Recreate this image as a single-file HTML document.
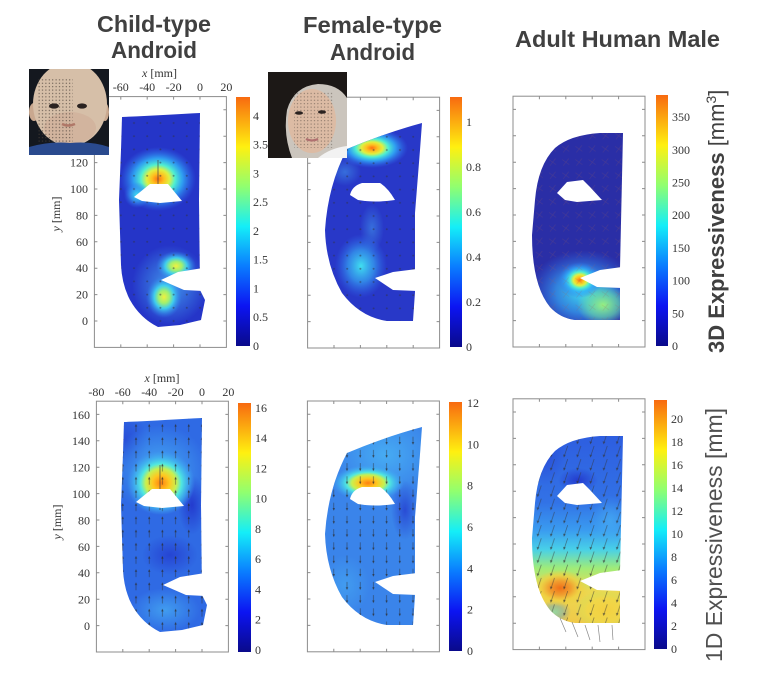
<!DOCTYPE html>
<html><head><meta charset="utf-8"><style>html,body{margin:0;padding:0;background:#fff}svg{display:block}</style></head>
<body>
<svg width="768" height="689" viewBox="0 0 768 689" xmlns="http://www.w3.org/2000/svg" xmlns:xlink="http://www.w3.org/1999/xlink">
<defs>
<linearGradient id="jet" x1="0" y1="1" x2="0" y2="0">
<stop offset="0" stop-color="#0a0a8a"/><stop offset=".16" stop-color="#0c14f2"/><stop offset=".32" stop-color="#0a7cff"/><stop offset=".48" stop-color="#14eef8"/><stop offset=".64" stop-color="#90ff70"/><stop offset=".8" stop-color="#fff010"/><stop offset="1" stop-color="#f86a10"/>
</linearGradient>
<radialGradient id="gHot"><stop offset="0" stop-color="#ff7010"/><stop offset=".16" stop-color="#ffc020"/><stop offset=".3" stop-color="#e0f040"/><stop offset=".45" stop-color="#50f0d0"/><stop offset=".65" stop-color="#30b0f8" stop-opacity=".85"/><stop offset="1" stop-color="#3070f0" stop-opacity="0"/></radialGradient>
<radialGradient id="gHot2"><stop offset="0" stop-color="#ff8010"/><stop offset=".25" stop-color="#ffc820"/><stop offset=".45" stop-color="#c8f050"/><stop offset=".6" stop-color="#50e8e0"/><stop offset=".8" stop-color="#40b8f0" stop-opacity=".7"/><stop offset="1" stop-color="#40a0f0" stop-opacity="0"/></radialGradient>
<radialGradient id="gHotF"><stop offset="0" stop-color="#f07018"/><stop offset=".4" stop-color="#f0a030"/><stop offset=".7" stop-color="#f0d040" stop-opacity=".8"/><stop offset="1" stop-color="#f0d040" stop-opacity="0"/></radialGradient>
<radialGradient id="gYel"><stop offset="0" stop-color="#f0f040"/><stop offset=".3" stop-color="#a0f070"/><stop offset=".55" stop-color="#40d8f0" stop-opacity=".9"/><stop offset="1" stop-color="#3080f0" stop-opacity="0"/></radialGradient>
<radialGradient id="gCyan"><stop offset="0" stop-color="#40e0f0"/><stop offset=".5" stop-color="#35a0f0" stop-opacity=".75"/><stop offset="1" stop-color="#3070f0" stop-opacity="0"/></radialGradient>
<radialGradient id="gLight"><stop offset="0" stop-color="#48b0f4" stop-opacity=".9"/><stop offset="1" stop-color="#48b0f4" stop-opacity="0"/></radialGradient>
<radialGradient id="gDark"><stop offset="0" stop-color="#2236cc" stop-opacity=".9"/><stop offset="1" stop-color="#2236cc" stop-opacity="0"/></radialGradient>
<radialGradient id="gGreen"><stop offset="0" stop-color="#98f080"/><stop offset=".6" stop-color="#70e8a0" stop-opacity=".6"/><stop offset="1" stop-color="#70e8a0" stop-opacity="0"/></radialGradient>
<radialGradient id="gYellow2"><stop offset="0" stop-color="#f4d040"/><stop offset=".6" stop-color="#f0d848" stop-opacity=".8"/><stop offset="1" stop-color="#c0e860" stop-opacity="0"/></radialGradient>
<linearGradient id="gF" gradientUnits="userSpaceOnUse" x1="0" y1="436" x2="0" y2="625">
<stop offset="0" stop-color="#2e5ee0"/><stop offset=".35" stop-color="#3272e6"/><stop offset=".5" stop-color="#3a9cf0"/><stop offset=".6" stop-color="#48d0e8"/><stop offset=".7" stop-color="#a0ec78"/><stop offset=".82" stop-color="#ecd850"/><stop offset="1" stop-color="#f0c848"/>
</linearGradient>

<pattern id="pDotA" width="13.2" height="13.2" patternUnits="userSpaceOnUse" x="193.4" y="314.4"><circle cx="6.6" cy="6.6" r="1" fill="#303040" opacity=".5"/></pattern>
<pattern id="pDotB" width="13.2" height="13.2" patternUnits="userSpaceOnUse" x="406.6" y="315"><circle cx="6.6" cy="6.6" r="1" fill="#303040" opacity=".5"/></pattern>
<pattern id="pC" width="13.2" height="13.2" patternUnits="userSpaceOnUse" x="612" y="314"><path d="M3,4L10,9M9.5,3L4,10" stroke="#9a5a5a" stroke-width=".5" opacity=".3"/></pattern>
<pattern id="pUp" width="13.2" height="13.2" patternUnits="userSpaceOnUse" x="195.4" y="619.4"><path d="M6.6,10.5V3.5" stroke="#2a2a2a" stroke-width=".7" opacity=".65"/><path d="M5.4,5.2L6.6,2.4L7.8,5.2Z" fill="#2a2a2a" opacity=".65"/></pattern>
<pattern id="pDown" width="13.2" height="13.2" patternUnits="userSpaceOnUse" x="406.4" y="619"><path d="M6.6,2.5V9.5" stroke="#2a2a2a" stroke-width=".7" opacity=".65"/><path d="M5.4,7.8L6.6,10.6L7.8,7.8Z" fill="#2a2a2a" opacity=".65"/></pattern>
<pattern id="pF" width="13.2" height="13.2" patternUnits="userSpaceOnUse" x="612" y="617"><path d="M8.5,0.5L5,11" stroke="#333" stroke-width=".7" opacity=".6"/><path d="M3.8,9L4.7,12.2L6.6,9.6Z" fill="#333" opacity=".6"/></pattern>
<pattern id="pPh" width="3.4" height="3.4" patternUnits="userSpaceOnUse"><circle cx="1.7" cy="1.7" r=".55" fill="#4a4038"/></pattern>

<clipPath id="cA"><path d="M122,117 C150,116 178,114 200,113 L199,200 L200,290 L205,300 L201,320 L180,325 L158,327 Q140,318 130,300 Q122,285 121,265 L119,200 L121,150 Z"/></clipPath>
<clipPath id="cB"><path d="M347,149 Q385,133 422,123 L420,150 L415,213 L415,292 L413,321 L387,321 Q360,317 342,293 Q326,265 325,230 Q328,185 347,149 Z"/></clipPath>
<clipPath id="cC"><path d="M623,133 L600,133 Q570,135 555,148 Q538,165 535,200 L532,235 Q532,285 550,307 Q560,318 575,320 L620,320 L620,268 Z"/></clipPath>
<clipPath id="cD"><path transform="translate(2,305)" d="M122,117 C150,116 178,114 200,113 L199,200 L200,290 L205,300 L201,320 L180,325 L158,327 Q140,318 130,300 Q122,285 121,265 L119,200 L121,150 Z"/></clipPath>
<clipPath id="cE"><path transform="translate(0,304)" d="M347,149 Q385,133 422,123 L420,150 L415,213 L415,292 L413,321 L387,321 Q360,317 342,293 Q326,265 325,230 Q328,185 347,149 Z"/></clipPath>
<clipPath id="cF"><path transform="translate(0,303)" d="M623,133 L600,133 Q570,135 555,148 Q538,165 535,200 L532,235 Q532,285 550,307 Q560,318 575,320 L620,320 L620,268 Z"/></clipPath>
<clipPath id="cP1"><rect x="29" y="69" width="80" height="86"/></clipPath>
<clipPath id="cP2"><rect x="268" y="72" width="79" height="86"/></clipPath>

<g id="box">
<rect x="0" y="0" width="132" height="250.8" fill="none" stroke="#8c8c8c" stroke-width="1"/>
<path d="M26.4,0v3M52.8,0v3M79.2,0v3M105.6,0v3M26.4,250.8v-3M52.8,250.8v-3M79.2,250.8v-3M105.6,250.8v-3M0,13.2h3M0,39.6h3M0,66h3M0,92.4h3M0,118.8h3M0,145.2h3M0,171.6h3M0,198h3M0,224.4h3M132,13.2h-3M132,39.6h-3M132,66h-3M132,92.4h-3M132,118.8h-3M132,145.2h-3M132,171.6h-3M132,198h-3M132,224.4h-3" stroke="#8c8c8c" stroke-width="1" fill="none"/>
</g>
</defs>

<rect width="768" height="689" fill="#fff"/>

<!-- boxes -->
<use xlink:href="#box" x="94.4" y="96.6"/>
<use xlink:href="#box" x="307.6" y="97.2"/>
<use xlink:href="#box" x="513" y="96.2"/>
<use xlink:href="#box" x="96.4" y="401.2"/>
<use xlink:href="#box" x="307.4" y="401"/>
<use xlink:href="#box" x="513" y="398.8"/>

<!-- Panel A -->
<g clip-path="url(#cA)">
<rect x="110" y="105" width="100" height="230" fill="#2535c8"/>
<ellipse cx="170" cy="285" rx="38" ry="40" fill="url(#gLight)" opacity=".9"/>
<ellipse cx="158" cy="179" rx="38" ry="32" fill="url(#gHot)"/>
<ellipse cx="137" cy="195" rx="13" ry="13" fill="url(#gCyan)"/>
<ellipse cx="176" cy="266" rx="20" ry="15" fill="url(#gYel)"/>
<ellipse cx="164" cy="297" rx="18" ry="21" fill="url(#gYel)"/>
<rect x="110" y="105" width="100" height="230" fill="url(#pDotA)"/>
</g>
<path d="M158,160 V205" stroke="#444" stroke-width=".7"/>
<path d="M134,197 L145,188 L150,184 L168,184 L182,201 L160,203 L142,201 Z" fill="#fff"/>
<path d="M161,280 L178,272 L203,268 L203,291 L184,290 Z" fill="#fff"/>

<!-- Panel B -->
<g clip-path="url(#cB)">
<rect x="320" y="118" width="105" height="210" fill="#2838c8"/>
<ellipse cx="345" cy="172" rx="16" ry="14" fill="url(#gLight)" opacity=".5"/>
<ellipse cx="372" cy="228" rx="12" ry="24" fill="url(#gLight)" opacity=".5"/>
<ellipse cx="361" cy="266" rx="26" ry="32" fill="url(#gCyan)"/>
<ellipse cx="372" cy="148" rx="36" ry="20" fill="url(#gHot)"/>
<rect x="320" y="118" width="105" height="210" fill="url(#pDotB)"/>
</g>
<path d="M350,195 Q352,186 362,183 L380,183 Q388,188 395,200 Q375,203 358,200 Z" fill="#fff"/>
<path d="M375,278 L393,272 L417,269 L417,291 L393,290 Z" fill="#fff"/>

<!-- Panel C -->
<g clip-path="url(#cC)">
<rect x="528" y="128" width="100" height="198" fill="#2a2ea6"/>
<ellipse cx="583" cy="292" rx="54" ry="42" fill="url(#gCyan)"/>
<ellipse cx="603" cy="305" rx="26" ry="20" fill="url(#gGreen)"/>
<ellipse cx="580" cy="280" rx="22" ry="18" fill="url(#gHot)"/>
<rect x="528" y="128" width="100" height="198" fill="url(#pC)"/>
</g>
<path d="M557,193 L567,182 L583,180 L590,187 L602,200 L577,202 L565,200 Z" fill="#fff"/>
<path d="M580,278 L600,270 L622,267 L622,288 L597,287 Z" fill="#fff"/>

<!-- Panel D -->
<g clip-path="url(#cD)">
<rect x="110" y="410" width="105" height="230" fill="#2f6ae4"/>
<ellipse cx="125" cy="440" rx="22" ry="30" fill="url(#gDark)" opacity=".6"/>
<ellipse cx="160" cy="470" rx="48" ry="45" fill="url(#gLight)"/>
<ellipse cx="192" cy="505" rx="14" ry="30" fill="url(#gDark)"/>
<ellipse cx="170" cy="555" rx="28" ry="20" fill="url(#gDark)" opacity=".8"/>
<ellipse cx="165" cy="610" rx="35" ry="22" fill="url(#gLight)" opacity=".8"/>
<ellipse cx="161" cy="483" rx="34" ry="32" fill="url(#gHot2)"/>
<rect x="110" y="410" width="105" height="230" fill="url(#pUp)"/>
</g>
<g transform="translate(2,305)">
<path d="M158,160 V205" stroke="#444" stroke-width=".7"/>
<path d="M134,197 L145,188 L150,184 L168,184 L182,201 L160,203 L142,201 Z" fill="#fff"/>
<path d="M161,280 L178,272 L203,268 L203,291 L184,290 Z" fill="#fff"/>
</g>

<!-- Panel E -->
<g clip-path="url(#cE)">
<rect x="320" y="422" width="105" height="210" fill="#3a84ea"/>
<ellipse cx="385" cy="455" rx="50" ry="40" fill="url(#gLight)"/>
<ellipse cx="405" cy="510" rx="14" ry="30" fill="url(#gDark)" opacity=".8"/>
<ellipse cx="345" cy="585" rx="25" ry="30" fill="url(#gLight)" opacity=".6"/>
<ellipse cx="368" cy="483" rx="36" ry="18" fill="url(#gHot2)"/>
<rect x="320" y="422" width="105" height="210" fill="url(#pDown)"/>
</g>
<g transform="translate(0,304)">
<path d="M350,195 Q352,186 362,183 L380,183 Q388,188 395,200 Q375,203 358,200 Z" fill="#fff"/>
<path d="M375,278 L393,272 L417,269 L417,291 L393,290 Z" fill="#fff"/>
</g>

<!-- Panel F -->
<g clip-path="url(#cF)">
<rect x="528" y="430" width="100" height="200" fill="url(#gF)"/>
<ellipse cx="545" cy="455" rx="20" ry="30" fill="url(#gDark)" opacity=".5"/>
<ellipse cx="578" cy="480" rx="20" ry="12" fill="url(#gDark)"/>
<ellipse cx="610" cy="520" rx="20" ry="25" fill="url(#gLight)" opacity=".7"/>
<ellipse cx="605" cy="610" rx="30" ry="20" fill="url(#gYellow2)"/>
<ellipse cx="555" cy="612" rx="16" ry="12" fill="url(#gCyan)" opacity=".5"/>
<ellipse cx="560" cy="588" rx="28" ry="18" fill="url(#gHotF)"/>
<rect x="528" y="430" width="100" height="200" fill="url(#pF)"/>
</g>
<g transform="translate(0,303)">
<path d="M557,193 L567,182 L583,180 L590,187 L602,200 L577,202 L565,200 Z" fill="#fff"/>
<path d="M580,278 L600,270 L622,267 L622,288 L597,287 Z" fill="#fff"/>
</g>
<path d="M585,625 L590,640 M598,625 L600,642 M612,625 L613,640 M572,622 L578,637 M560,618 L566,632" stroke="#555" stroke-width=".7" opacity=".7"/>

<!-- colorbars -->
<rect x="236" y="97" width="14" height="249" fill="url(#jet)"/>
<rect x="450" y="97" width="12" height="250" fill="url(#jet)"/>
<rect x="656" y="95" width="12" height="251" fill="url(#jet)"/>
<rect x="238" y="403" width="13" height="249" fill="url(#jet)"/>
<rect x="449" y="402" width="13" height="249" fill="url(#jet)"/>
<rect x="654" y="400" width="13" height="249" fill="url(#jet)"/>

<!-- tick labels -->
<g font-family="'Liberation Serif', serif" font-size="12" fill="#333">
<g text-anchor="middle">
<text x="94.4" y="91">-80</text><text x="120.8" y="91">-60</text><text x="147.2" y="91">-40</text><text x="173.6" y="91">-20</text><text x="200" y="91">0</text><text x="226.4" y="91">20</text>
<text x="96.4" y="396">-80</text><text x="122.8" y="396">-60</text><text x="149.2" y="396">-40</text><text x="175.6" y="396">-20</text><text x="202" y="396">0</text><text x="228.4" y="396">20</text>
<text x="159.5" y="77"><tspan font-style="italic">x</tspan> [mm]</text>
<text x="162" y="382"><tspan font-style="italic">x</tspan> [mm]</text>
<text transform="translate(60,214) rotate(-90)"><tspan font-style="italic">y</tspan> [mm]</text>
<text transform="translate(61,522) rotate(-90)"><tspan font-style="italic">y</tspan> [mm]</text>
</g>
<g text-anchor="end">
<text x="88" y="113.8">160</text><text x="88" y="140.2">140</text><text x="88" y="166.6">120</text><text x="88" y="193">100</text><text x="88" y="219.4">80</text><text x="88" y="245.8">60</text><text x="88" y="272.2">40</text><text x="88" y="298.6">20</text><text x="88" y="325">0</text>
<text x="90" y="418.8">160</text><text x="90" y="445.2">140</text><text x="90" y="471.6">120</text><text x="90" y="498">100</text><text x="90" y="524.4">80</text><text x="90" y="550.8">60</text><text x="90" y="577.2">40</text><text x="90" y="603.6">20</text><text x="90" y="630">0</text>
</g>
<g>
<text x="253" y="350">0</text><text x="253" y="321.2">0.5</text><text x="253" y="292.5">1</text><text x="253" y="263.7">1.5</text><text x="253" y="235">2</text><text x="253" y="206.2">2.5</text><text x="253" y="177.5">3</text><text x="253" y="148.7">3.5</text><text x="253" y="120">4</text>
<text x="466" y="351">0</text><text x="466" y="306">0.2</text><text x="466" y="261">0.4</text><text x="466" y="216">0.6</text><text x="466" y="171">0.8</text><text x="466" y="126">1</text>
<text x="672" y="350">0</text><text x="672" y="317.3">50</text><text x="672" y="284.6">100</text><text x="672" y="251.9">150</text><text x="672" y="219.2">200</text><text x="672" y="186.5">250</text><text x="672" y="153.8">300</text><text x="672" y="121.1">350</text>
<text x="255" y="654">0</text><text x="255" y="623.7">2</text><text x="255" y="593.5">4</text><text x="255" y="563.2">6</text><text x="255" y="533">8</text><text x="255" y="502.7">10</text><text x="255" y="472.5">12</text><text x="255" y="442.2">14</text><text x="255" y="412">16</text>
<text x="467" y="655">0</text><text x="467" y="613.7">2</text><text x="467" y="572.3">4</text><text x="467" y="531">6</text><text x="467" y="489.7">8</text><text x="467" y="448.3">10</text><text x="467" y="407">12</text>
<text x="671" y="653">0</text><text x="671" y="630">2</text><text x="671" y="607">4</text><text x="671" y="584">6</text><text x="671" y="561">8</text><text x="671" y="538">10</text><text x="671" y="515">12</text><text x="671" y="492">14</text><text x="671" y="469">16</text><text x="671" y="446">18</text><text x="671" y="423">20</text>
</g>
</g>

<!-- photo 1: child -->
<g clip-path="url(#cP1)">
<rect x="29" y="69" width="80" height="86" fill="#14181f"/>
<ellipse cx="34" cy="112" rx="5" ry="9" fill="#c9a88f"/>
<ellipse cx="105" cy="112" rx="4" ry="9" fill="#c9a88f"/>
<ellipse cx="70" cy="104" rx="37" ry="42" fill="#d6bfa8"/>
<ellipse cx="70" cy="128" rx="26" ry="16" fill="#d2b49e"/>
<path d="M29,155 L29,147 Q50,141 70,143 Q92,141 109,147 L109,155 Z" fill="#2a4a8e"/>
<rect x="37" y="78" width="36" height="64" fill="url(#pPh)"/>
<ellipse cx="54" cy="106" rx="5" ry="2.6" fill="#2a2220"/>
<ellipse cx="82" cy="106" rx="5" ry="2.6" fill="#2a2220"/>
<path d="M62,124 Q68,127 75,124" stroke="#b07868" stroke-width="2.5" fill="none"/>
</g>

<!-- photo 2: female -->
<g clip-path="url(#cP2)">
<rect x="268" y="72" width="79" height="86" fill="#cbc5bd"/>
<ellipse cx="312" cy="121" rx="24" ry="32" fill="#dcbba4"/>
<path d="M318,158 Q330,148 347,146 V158 Z" fill="#f2f2f2"/>
<path d="M268,72 H347 V98 Q338,84 318,84 Q294,86 287,110 Q283,135 292,158 H268 Z" fill="#1c1816"/>
<rect x="294" y="92" width="40" height="56" fill="url(#pPh)" opacity=".7"/>
<ellipse cx="299" cy="113" rx="4" ry="1.8" fill="#2a2220"/>
<ellipse cx="322" cy="112" rx="4" ry="1.8" fill="#2a2220"/>
<path d="M306,139 Q312,142 318,139" stroke="#b07070" stroke-width="2.2" fill="none"/>
</g>

<!-- titles -->
<g font-family="'Liberation Sans', sans-serif" font-weight="bold" font-size="23" fill="#404040" text-anchor="middle">
<text x="154" y="32" textLength="114" lengthAdjust="spacingAndGlyphs">Child-type</text>
<text x="154" y="58" textLength="86" lengthAdjust="spacingAndGlyphs">Android</text>
<text x="372.5" y="33" textLength="139" lengthAdjust="spacingAndGlyphs">Female-type</text>
<text x="372.5" y="60" textLength="85" lengthAdjust="spacingAndGlyphs">Android</text>
<text x="617.5" y="47" textLength="205" lengthAdjust="spacingAndGlyphs">Adult Human Male</text>
</g>

<!-- side labels -->
<text transform="translate(724,353) rotate(-90)" font-family="'Liberation Sans', sans-serif" font-size="22" fill="#404040"><tspan font-weight="bold">3D Expressiveness</tspan> [mm<tspan font-size="14" dy="-8">3</tspan><tspan dy="8">]</tspan></text>
<text transform="translate(722,662) rotate(-90)" font-family="'Liberation Sans', sans-serif" font-size="23" fill="#505050" textLength="254" lengthAdjust="spacingAndGlyphs">1D Expressiveness [mm]</text>
</svg>
</body></html>
